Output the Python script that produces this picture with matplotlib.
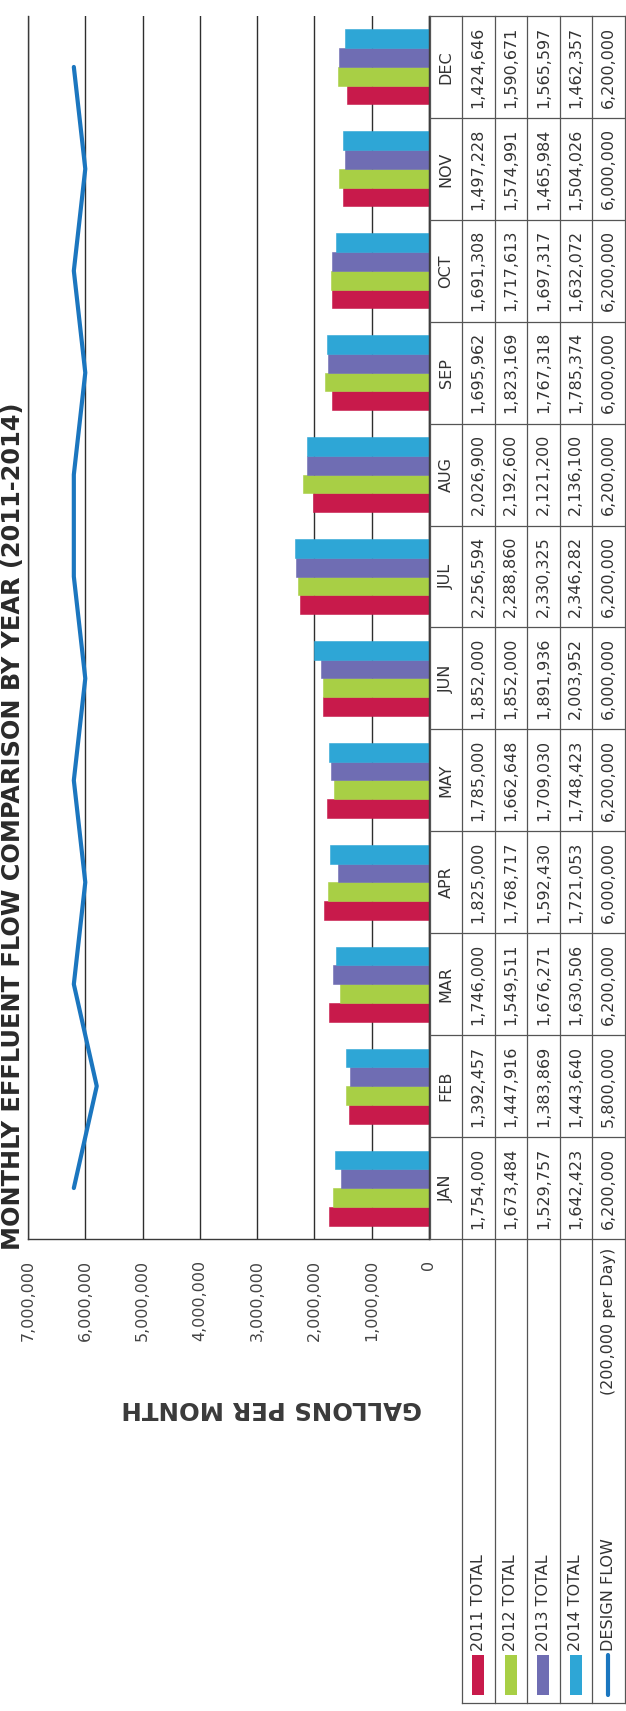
import matplotlib
matplotlib.use("Agg")
import matplotlib.pyplot as plt
import matplotlib.transforms as mtransforms
from matplotlib.patches import Rectangle
import numpy as np

# ---- data -------------------------------------------------------------
months = ["JAN", "FEB", "MAR", "APR", "MAY", "JUN",
          "JUL", "AUG", "SEP", "OCT", "NOV", "DEC"]
series_labels = ["2011 TOTAL", "2012 TOTAL", "2013 TOTAL", "2014 TOTAL"]
flow_2011 = [1754000, 1392457, 1746000, 1825000, 1785000, 1852000,
             2256594, 2026900, 1695962, 1691308, 1497228, 1424646]
flow_2012 = [1673484, 1447916, 1549511, 1768717, 1662648, 1852000,
             2288860, 2192600, 1823169, 1717613, 1574991, 1590671]
flow_2013 = [1529757, 1383869, 1676271, 1592430, 1709030, 1891936,
             2330325, 2121200, 1767318, 1697317, 1465984, 1565597]
flow_2014 = [1642423, 1443640, 1630506, 1721053, 1748423, 2003952,
             2346282, 2136100, 1785374, 1632072, 1504026, 1462357]
design_flow = [6200000, 5800000, 6200000, 6000000, 6200000, 6000000,
               6200000, 6200000, 6000000, 6200000, 6000000, 6200000]
design_label = "DESIGN FLOW"
design_note = "(200,000 per Day)"
value_ticks = [0, 1000000, 2000000, 3000000, 4000000, 5000000, 6000000, 7000000]
title_text = "MONTHLY EFFLUENT FLOW COMPARISON BY YEAR (2011-2014)"
value_axis_label = "GALLONS PER MONTH"

series_values = [flow_2011, flow_2012, flow_2013, flow_2014]
series_colors = ["#c81a4b", "#a8cf45", "#6f6db3", "#2ea6d6"]
line_color = "#1b76bf"
text_color = "#333333"
rule_color = "#555555"

# ---- page layout (pixels, measured from the top-left corner) ----------
W, H = 626, 1711
plot_left, plot_right = 28, 429        # 7,000,000 .. 0
plot_top, plot_bottom = 16, 1239
head_w, col_w = 32, 32.5
tab_left = plot_right + 1
legend_bottom = 1703

fig = plt.figure(figsize=(W / 100, H / 100), dpi=100)
fig.patch.set_facecolor("white")

ax = fig.add_axes([plot_left / W, 1 - plot_bottom / H,
                   (plot_right - plot_left) / W, (plot_bottom - plot_top) / H])
ax.set_facecolor("none")

y = np.arange(len(months))
bar_h = 0.184
for i, (vals, col) in enumerate(zip(series_values, series_colors)):
    ax.barh(y + (i - 1.5) * bar_h, vals, height=bar_h, color=col,
            edgecolor=col, linewidth=0.4, zorder=2)
ax.plot(design_flow, y, color=line_color, lw=3.0, solid_capstyle="round",
        solid_joinstyle="round", zorder=3)

ax.set_xlim(7000000, 0)
ax.set_ylim(-0.5, len(months) - 0.5)
ax.set_xticks(value_ticks)
ax.set_xticklabels([f"{v:,}" for v in value_ticks])
ax.set_yticks([])
ax.xaxis.grid(True, color="#2e2e2e", lw=1.0)
ax.set_axisbelow(True)
ax.tick_params(axis="x", length=0, pad=15, labelrotation=90,
               labelsize=11.5, labelcolor="#444444")
for lbl in ax.get_xticklabels():
    lbl.set_fontfamily("DejaVu Sans")
ax.spines["top"].set_visible(False)
for s in ("left", "bottom", "right"):
    ax.spines[s].set_color("#3a3a3a")
    ax.spines[s].set_linewidth(1.0)

# ---- overlay in pixel coordinates for the data table and titles ----------
ov = fig.add_axes([0, 0, 1, 1])
ov.set_xlim(0, W)
ov.set_ylim(H, 0)
ov.set_axis_off()
ov.set_zorder(5)

# x in pixels, y in month units of the chart
trans = mtransforms.blended_transform_factory(ov.transData, ax.transData)
col_edges = [tab_left, tab_left + head_w] + [tab_left + head_w + col_w * (k + 1)
                                             for k in range(5)]
tab_right = col_edges[-1]

for k in range(len(months) + 1):
    b = k - 0.5
    ov.plot([tab_left, tab_right], [b, b], color=rule_color, lw=0.9,
            transform=trans, clip_on=False)
for xe in col_edges:
    ov.plot([xe, xe], [-0.5, len(months) - 0.5], color=rule_color, lw=0.9,
            transform=trans, clip_on=False)

cell_kw = dict(rotation=90, ha="center", va="center", fontsize=11.5,
               color=text_color, family="DejaVu Sans", transform=trans)
for i, m in enumerate(months):
    ov.text(tab_left + head_w / 2, i, m, **cell_kw)
    row_vals = [v[i] for v in series_values] + [design_flow[i]]
    for r, v in enumerate(row_vals):
        cx = col_edges[1] + col_w * (r + 0.5)
        ov.text(cx, i, f"{v:,}", **cell_kw)

# legend block under the table
for xe in col_edges[1:]:
    ov.plot([xe, xe], [plot_bottom, legend_bottom], color=rule_color, lw=0.9)
ov.plot([col_edges[1], tab_right], [legend_bottom, legend_bottom],
        color=rule_color, lw=0.9)

key_top, key_bottom = 1655, 1695
legend_names = series_labels + [design_label]
for r, name in enumerate(legend_names):
    cx = col_edges[1] + col_w * (r + 0.5)
    if r < len(series_labels):
        ov.add_patch(Rectangle((cx - 6, key_top), 12, key_bottom - key_top,
                               facecolor=series_colors[r], edgecolor="none"))
    else:
        ov.plot([cx, cx], [key_top, key_bottom], color=line_color, lw=3.0,
                solid_capstyle="round")
    ov.text(cx, key_top - 4, name, rotation=90, ha="center", va="bottom",
            fontsize=11.5, color=text_color, family="DejaVu Sans")
ov.text(col_edges[1] + col_w * 4.5, plot_bottom + 9, design_note, rotation=90,
        ha="center", va="top", fontsize=11.5, color=text_color,
        family="DejaVu Sans")

# ---- title and axis label, sized to their measured lengths --------------
renderer = fig.canvas.get_renderer()


def fit_length(txt, target_px, along="height"):
    for _ in range(3):
        bb = txt.get_window_extent(renderer)
        cur = bb.height if along == "height" else bb.width
        txt.set_fontsize(txt.get_fontsize() * target_px / cur)


# title runs from just above the tick labels up to the upper part of the page
title_start, title_end = 1250, 403
title = ov.text(1, (title_start + title_end) / 2, title_text, rotation=90,
                ha="left", va="center", fontsize=20, fontweight="bold",
                color="#2a2a2a", family="DejaVu Sans")
fit_length(title, title_start - title_end, "height")

ylab = ov.text(272, 1408, value_axis_label, rotation=180, ha="center",
               va="center", fontsize=20, fontweight="bold", color="#3a3a3a",
               family="DejaVu Sans")
fit_length(ylab, 300, "width")

fig.savefig("out.png", dpi=100, facecolor="white")
